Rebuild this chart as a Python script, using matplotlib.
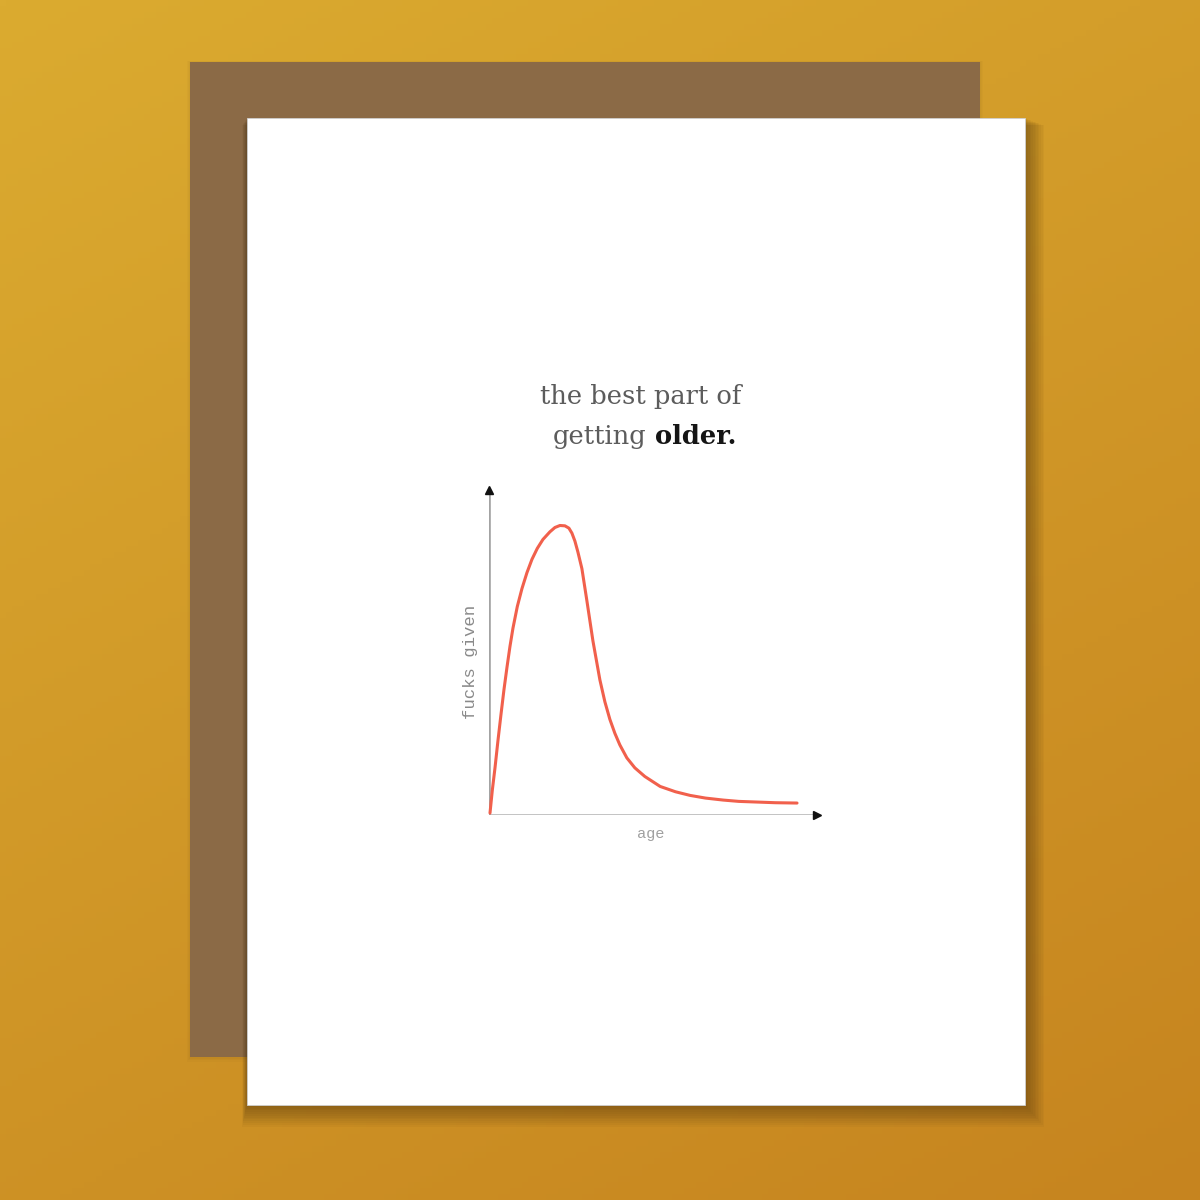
import numpy as np
import matplotlib
matplotlib.use('Agg')
import matplotlib.pyplot as plt
from matplotlib.patches import Rectangle
from matplotlib.colors import to_rgb

# curve: age (0-100) vs fucks given (0-100)
age = [0.3, 1.0, 1.8, 2.7, 3.6, 4.5, 5.4, 6.3, 7.2, 8.5, 9.9, 11.4, 12.9, 14.5,
       16.2, 18.3, 19.8, 21.3, 22.8, 24.0, 24.9, 25.8, 26.7, 27.9, 29.4, 31.2,
       33.3, 34.8, 36.3, 37.8, 39.3, 41.4, 43.8, 46.8, 51.4, 56.0, 60.4, 65.0,
       70.3, 75.0, 80.5, 86.0, 92.5]
fucks_given = [0.6, 7.5, 14.2, 22.5, 30.3, 37.8, 44.5, 50.8, 56.3, 62.8, 68.2,
               73.0, 77.0, 80.3, 83.0, 85.3, 86.6, 87.2, 87.1, 86.4, 84.9, 82.5,
               79.2, 74.2, 64.5, 52.5, 40.7, 34.1, 28.8, 24.6, 21.1, 17.2, 14.2,
               11.6, 8.6, 7.0, 5.9, 5.1, 4.5, 4.1, 3.9, 3.7, 3.6]

title_line1 = 'the best part of'
title_line2_light = 'getting'
title_line2_bold = 'older.'
x_label = 'age'
y_label = 'fucks given'

W = H = 1200
fig = plt.figure(figsize=(12, 12), dpi=100)

# background scene in pixel coordinates
bg = fig.add_axes([0, 0, 1, 1])
bg.set_xlim(0, W)
bg.set_ylim(H, 0)
bg.axis('off')

# gold backdrop, yellow top-left to orange bottom-right
yy, xx = np.mgrid[0:1:200j, 0:1:200j]
t = (0.35 * xx + 0.65 * yy)[..., None]
c0 = np.array(to_rgb('#dbab30'))
c1 = np.array(to_rgb('#c6841f'))
bg.imshow(c0 * (1 - t) + c1 * t, extent=[0, W, H, 0], aspect='auto', zorder=0)

# kraft envelope with a faint shadow
for off in range(1, 4):
    bg.add_patch(Rectangle((190 - off, 62 - off * 0.5), 790 + off * 2, 995 + off * 2,
                           facecolor='#3a2508', edgecolor='none', alpha=0.025, zorder=1))
bg.add_patch(Rectangle((190, 62), 790, 995, facecolor='#8b6a46', edgecolor='none', zorder=1))

# soft shadow under the card (right and bottom)
for off in range(2, 26, 2):
    bg.add_patch(Rectangle((247 - off * 0.2, 118 + off * 0.3), 778 + off * 1.0, 987 + off * 0.6,
                           facecolor='#3a2508', edgecolor='none', alpha=0.04, zorder=2))

# white card
bg.add_patch(Rectangle((247, 118), 778, 987, facecolor='white', edgecolor='#cfcfcf',
                       linewidth=0.6, zorder=3))

# title
bg.text(641, 404, title_line1, ha='center', va='baseline', fontsize=18.5,
        family='DejaVu Serif', color='#5c5c5c', zorder=4)
bg.text(647, 444, title_line2_light, ha='right', va='baseline', fontsize=18.5,
        family='DejaVu Serif', color='#5c5c5c', zorder=4)
bg.text(655, 444, title_line2_bold, ha='left', va='baseline', fontsize=18.5,
        family='DejaVu Serif', fontweight='bold', color='#151515', zorder=4)

# the chart itself
ox, oy, tip_x, tip_y = 489, 815, 822, 483
ax = fig.add_axes([ox / W, 1 - oy / H, (tip_x - ox) / W, (oy - tip_y) / H])
ax.set_xlim(0, 100)
ax.set_ylim(0, 100)
ax.patch.set_alpha(0)
for s in ax.spines.values():
    s.set_visible(False)
ax.set_xticks([])
ax.set_yticks([])

ax.plot([0, 98], [0, 0], color='#bdbdbd', lw=2.0, solid_capstyle='butt', zorder=2)
ax.plot([0, 0], [0, 98], color='#a3a3a3', lw=2.6, solid_capstyle='butt', zorder=2)
ax.plot([98.5], [0], marker='>', color='#111111', markersize=6, clip_on=False, zorder=3)
ax.plot([0], [98.0], marker='^', color='#111111', markersize=6, clip_on=False, zorder=3)

ax.plot(age, fucks_given, color='#f1604c', lw=2.2, solid_joinstyle='round',
        solid_capstyle='round', clip_on=False, zorder=4)

ax.text(48.5, -3.5, x_label, ha='center', va='top', fontsize=11, family='Liberation Mono',
        color='#a0a0a0')
ax.text(-3.2, 46, y_label, ha='right', va='center', rotation=90, fontsize=12.5,
        family='Liberation Mono', color='#8a8a8a')

fig.savefig('out.png', dpi=100)
